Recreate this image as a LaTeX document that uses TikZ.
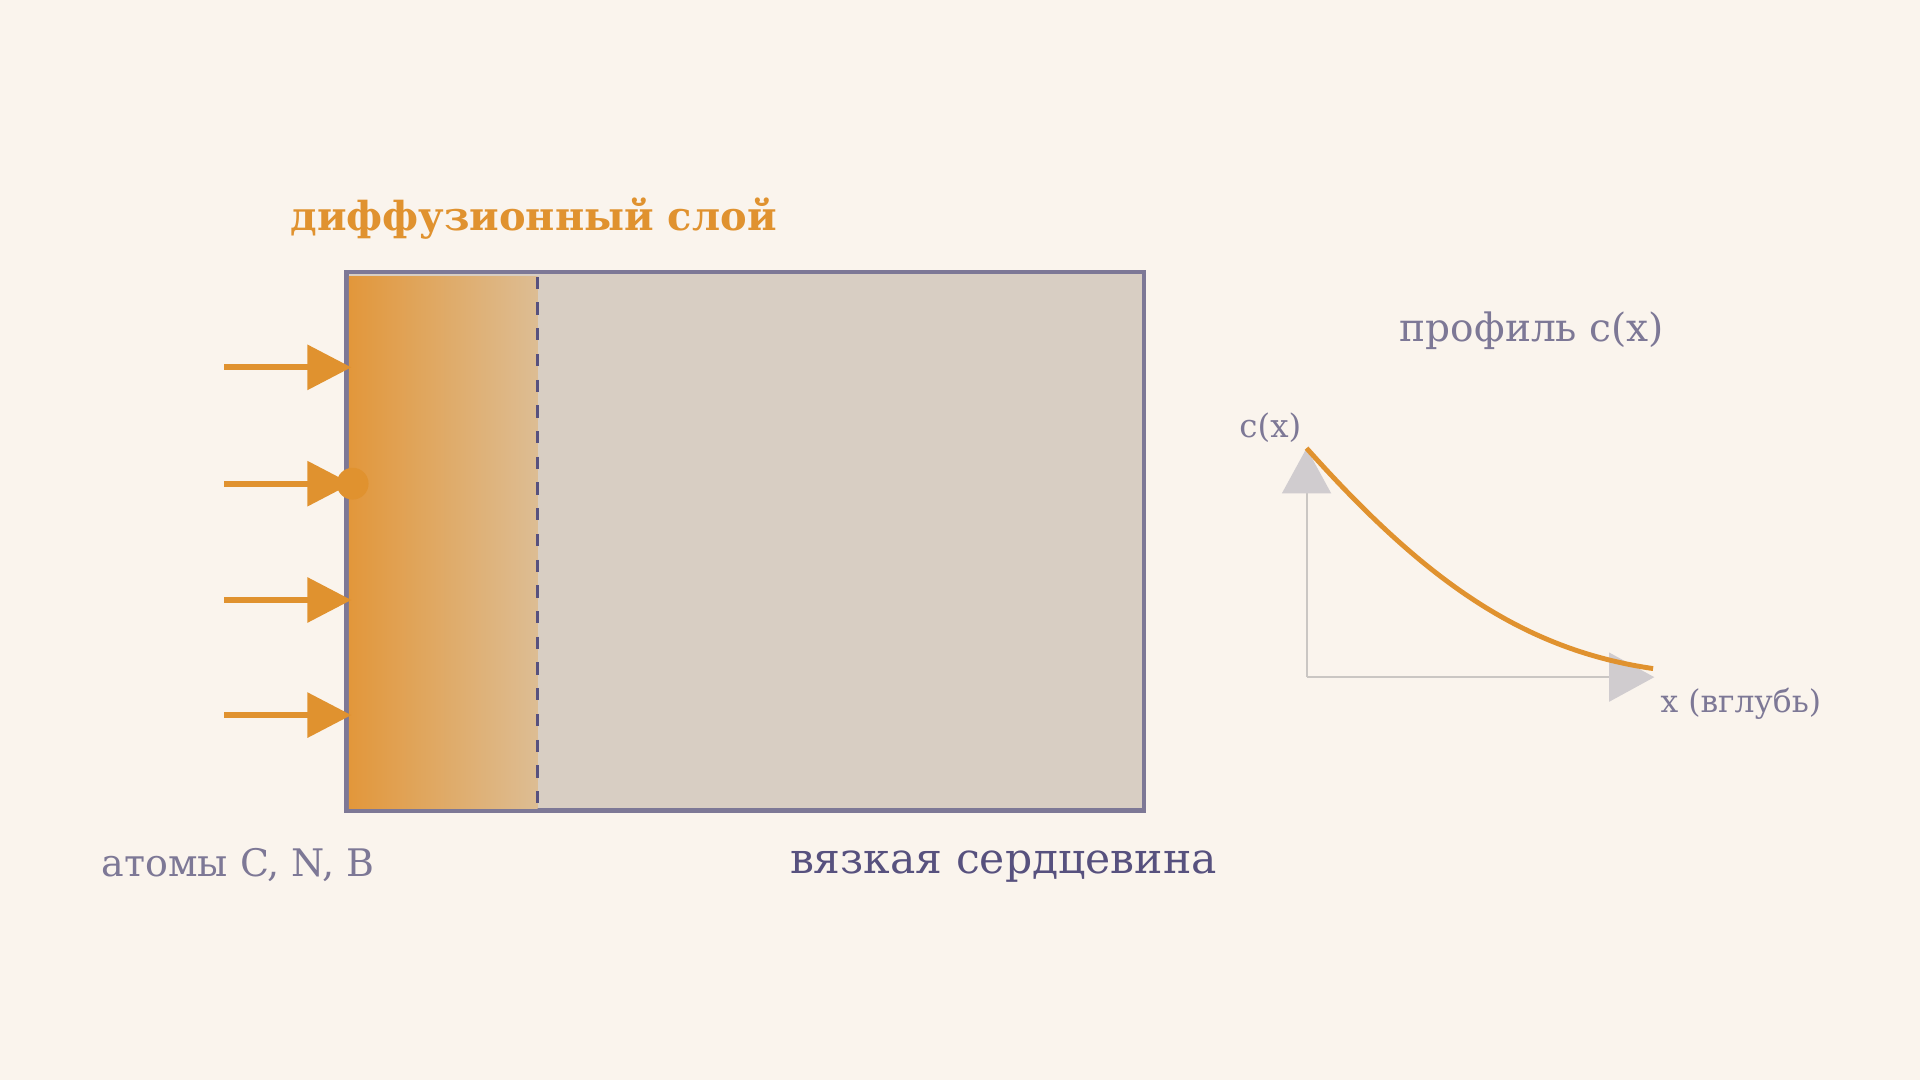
\documentclass[tikz,border=0pt]{standalone}
\usepackage{fontspec}
\setmainfont{DejaVu Serif}
\usetikzlibrary{arrows.meta}

\definecolor{bgcream}{HTML}{FAF4ED}
\definecolor{corefill}{HTML}{D8CEC3}
\definecolor{rimline}{HTML}{7D7896}
\definecolor{deepline}{HTML}{57517E}
\definecolor{carbon}{HTML}{E0922F}
\definecolor{layerhot}{HTML}{E2973B}
\definecolor{layercool}{HTML}{DDBD93}
\definecolor{axisgray}{HTML}{CAC6C3}
\definecolor{headgray}{HTML}{D0CCCF}

\begin{document}
\begin{tikzpicture}[x=1pt, y=-1pt,
    flux/.style={draw=carbon, line width=5pt, -{Triangle[length=36pt, width=36pt]}},
    axisline/.style={draw=axisgray, line width=1.6pt, -{Triangle[length=37pt, width=40pt, color=headgray]}},
    label/.style={text=rimline, inner sep=0pt, anchor=base west}
  ]

    \useasboundingbox (0,0) rectangle (1568,882);
    \fill[bgcream] (0,0) rectangle (1568,882);

    % the part: core and hardened layer
    \filldraw[fill=corefill, draw=rimline, line width=3.5pt] (283,222) rectangle (934,662);
    \shade[left color=layerhot, right color=layercool] (285,226) rectangle (439,660);
    \coordinate (L0) at (439,226);
    \coordinate (L1) at (439,660);
    \draw[deepline, line width=2.5pt, dash pattern=on 10pt off 11pt] (L0) -- (L1);

    % incoming atoms
    \foreach \i/\y in {1/300, 2/395, 3/490, 4/584} {
        \coordinate (src\i) at (183,\y);
        \coordinate (hit\i) at (287,\y);
        \draw[flux] (src\i) -- (hit\i);
    }
    \fill[carbon] (288,395) circle (13pt);

    % concentration profile
    \coordinate (O) at (1067,553);
    \coordinate (Ctop) at (1067,366);
    \coordinate (Xend) at (1351,553);
    \draw[axisline] (O) -- (Ctop);
    \draw[axisline] (O) -- (Xend);
    \coordinate (P0) at (1067,366);
    \coordinate (P1) at (1350,546);
    \draw[carbon, line width=4pt] (P0) .. controls (1160,470) and (1240,530) .. (P1);

    \node[label, text=carbon, font=\bfseries\fontsize{32.6}{40}\selectfont] (title) at (237,188) {диффузионный слой};
    \node[label, font=\fontsize{31.9}{38}\selectfont] (profile) at (1143,279) {профиль c(x)};
    \node[label, font=\fontsize{26.5}{32}\selectfont] (cx) at (1012,357) {c(x)};
    \node[label, font=\fontsize{25.6}{31}\selectfont] (xdeep) at (1356,582) {x (вглубь)};
    \node[label, font=\fontsize{31}{37}\selectfont] (atoms) at (83,716) {атомы C, N, B};
    \node[label, text=deepline, font=\fontsize{34.7}{41}\selectfont] (core) at (645,713) {вязкая сердцевина};
\end{tikzpicture}
\end{document}
